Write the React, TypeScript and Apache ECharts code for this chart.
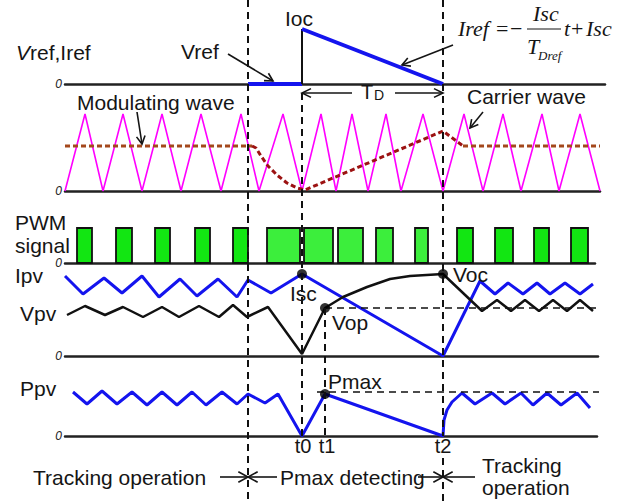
import React, { useEffect, useRef } from "react";
import * as echarts from "echarts";

// ---------- shared time axis (units from left edge of the traces) ----------
const tTrackEnd = 183; // end of tracking operation
const t0 = 237;
const t1 = 260;
const t2 = 378;

// ---------- panel 1: Vref, Iref ----------
const vrefSeg = [[183, 0], [237, 0]];
const iocStep = [[237, 0], [237, 55]];
const irefRamp = [[237, 55], [378, 0]];

// ---------- panel 2: carrier & modulating wave ----------
const carrierT = [0, 20, 38, 58, 77, 97, 116, 136, 156, 176, 194, 218, 237, 256, 271, 287, 303, 321, 336, 358, 378, 399, 418, 438, 456, 477, 494, 515, 535];
const carrierV = [0, 77, 0, 77, 0, 77, 0, 77, 0, 77, 0, 77, 0, 77, 0, 77, 0, 77, 0, 77, 0, 77, 0, 77, 0, 77, 0, 77, 0];
const modLeft = [[0, 45], [187, 45]];
const modMid = [[187, 45], [191, 43], [196, 35], [203, 25], [212, 16], [222, 8], [232, 3], [240, 1], [378, 60], [398, 45]];
const modRight = [[398, 45], [535, 45]];

// ---------- panel 3: PWM signal ----------
const pwmStart = [12, 51, 90, 130, 168, 202, 239, 273, 311, 350, 392, 430, 469, 506];
const pwmEnd = [27, 67, 105, 145, 183, 235, 268, 298, 328, 363, 408, 448, 484, 523];
const pwmHigh = 35;

// ---------- panel 4: Ipv, Vpv ----------
const ipvT = [0, 18, 39, 57, 77, 94, 115, 132, 153, 172, 183, 206, 237, 378, 415, 430, 443, 458, 472, 485, 500, 515, 528];
const ipvV = [80, 62, 78, 63, 80, 59, 77, 60, 77, 59, 76, 63, 82, 0, 75, 62, 73, 62, 73, 62, 73, 62, 72];
const vpvT = [2, 20, 40, 58, 78, 97, 114, 134, 154, 168, 182, 203, 237, 260, 278, 302, 325, 345, 378, 417, 432, 446, 460, 474, 488, 502, 515, 528];
const vpvV = [41, 50, 41, 49, 39, 49, 39, 50, 39, 51, 39, 49, 2, 48, 59, 69, 77, 80, 82, 45, 56, 45, 56, 45, 56, 45, 56, 45];
const iscPoint = [237, 82];
const vopPoint = [260, 48];
const vocPoint = [378, 82];
const vopLevel = [[260, 48], [540, 48]];

// ---------- panel 5: Ppv ----------
const ppvT = [8, 22, 37, 52, 67, 82, 97, 112, 127, 141, 157, 172, 183, 200, 213, 237, 260, 378, 379, 382, 387, 397, 410, 427, 440, 456, 468, 482, 496, 512, 525];
const ppvV = [44, 32, 45, 32, 44, 31, 44, 31, 44, 31, 44, 32, 42, 33, 42, 0, 42, 0, 16, 26, 34, 43, 32, 43, 32, 43, 31, 43, 31, 43, 28];
const pmaxPoint = [260, 42];
const pmaxLevel = [[252, 44], [538, 44]];

// ---------- layout ----------
const LEFT = 65;
const panels = [
  { top: 24, height: 60, width: 540, ymax: 60 },
  { top: 111, height: 80, width: 535, ymax: 80 },
  { top: 223, height: 40, width: 530, ymax: 40 },
  { top: 256, height: 100, width: 533, ymax: 100 },
  { top: 376, height: 60, width: 532, ymax: 60 },
];
const overlay = { top: 0, height: 502, width: 540, ymax: 502 };
const guides = [
  { t: tTrackEnd, from: 0, to: 502 },
  { t: t0, from: 93, to: 436 },
  { t: t1, from: 308, to: 436 },
  { t: t2, from: 0, to: 436 },
  { t: t2, from: 458, to: 502 },
];

const INK = "#151515";
const BLUE = "#1414ee";
const SANS = '"Liberation Sans", Arial, sans-serif';
const SERIF = '"Liberation Serif", "Times New Roman", serif';
const DASH = [7, 5];

function zip(ts: number[], vs: number[]) {
  return ts.map((t, i) => [t, vs[i]]);
}

function txt(text: string, x: number, y: number, o: any = {}) {
  return {
    type: "text",
    x,
    y,
    silent: true,
    z: 20,
    style: {
      text,
      fill: o.fill || INK,
      fontSize: o.size || 21,
      fontFamily: o.family || SANS,
      fontStyle: o.italic ? "italic" : "normal",
      align: o.align || "left",
      verticalAlign: "middle",
      textAlign: o.align || "left",
      textVerticalAlign: "middle",
    },
  };
}

function arrow(x1: number, y1: number, x2: number, y2: number, len = 9, spread = 0.5, lw = 1.6) {
  const a = Math.atan2(y2 - y1, x2 - x1);
  const h1 = [x2 - len * Math.cos(a - spread), y2 - len * Math.sin(a - spread)];
  const h2 = [x2 - len * Math.cos(a + spread), y2 - len * Math.sin(a + spread)];
  return [
    { type: "line", silent: true, z: 20, shape: { x1, y1, x2, y2 }, style: { stroke: INK, lineWidth: lw } },
    { type: "polyline", silent: true, z: 20, shape: { points: [h1, [x2, y2], h2] }, style: { stroke: INK, lineWidth: lw, fill: null } },
  ];
}

function line(data: number[][], idx: number, color: string, width: number, extra: any = {}) {
  return {
    type: "line",
    xAxisIndex: idx,
    yAxisIndex: idx,
    data,
    symbol: "none",
    silent: true,
    lineStyle: { color, width, type: extra.type || "solid", cap: "butt" },
    z: extra.z || 3,
  };
}

function dots(points: number[][], idx: number) {
  return {
    type: "scatter",
    xAxisIndex: idx,
    yAxisIndex: idx,
    data: points,
    symbolSize: 10,
    itemStyle: { color: "#000" },
    silent: true,
    z: 6,
  };
}

export default function App() {
  const ref = useRef<HTMLDivElement>(null);
  useEffect(() => {
    if (!ref.current) return;
    const chart = echarts.init(ref.current, undefined, { renderer: "svg" });
    const all = [...panels, overlay];
    const grid = all.map((p) => ({ left: LEFT, top: p.top, width: p.width, height: p.height, outerBoundsMode: "none", containLabel: false }));
    const xAxis = all.map((p, i) => ({
      type: "value",
      gridIndex: i,
      min: 0,
      max: p.width,
      axisLine: { show: i < panels.length, onZero: false, lineStyle: { color: "#222", width: 2.5 } },
      axisTick: { show: false },
      axisLabel: { show: false },
      splitLine: { show: false },
    }));
    const yAxis = all.map((p, i) => ({
      type: "value",
      gridIndex: i,
      min: 0,
      max: p.ymax,
      interval: p.ymax,
      inverse: i === panels.length,
      axisLine: { show: false },
      axisTick: { show: false },
      splitLine: { show: false },
      axisLabel: {
        show: i < panels.length,
        margin: 3,
        formatter: (v: number) => (v === 0 ? "0" : ""),
        fontStyle: "italic",
        fontSize: 12,
        fontFamily: SANS,
        color: "#222",
      },
    }));
    const ov = panels.length;
    const series: any[] = [
      // panel 1
      line(vrefSeg, 0, BLUE, 4),
      line(iocStep, 0, "#111", 2),
      line(irefRamp, 0, BLUE, 4),
      // panel 2
      line(zip(carrierT, carrierV), 1, "#ff00ff", 1.6),
      line(modLeft, 1, "#a4481c", 3, { type: [5, 3], z: 4 }),
      line(modMid, 1, "#9c1212", 3, { type: [5, 3], z: 4 }),
      line(modRight, 1, "#a4481c", 3, { type: [5, 3], z: 4 }),
      // panel 3
      {
        type: "custom",
        xAxisIndex: 2,
        yAxisIndex: 2,
        silent: true,
        z: 3,
        data: pwmStart.map((s, i) => [s, pwmEnd[i], pwmHigh]),
        encode: { x: [0, 1], y: 2 },
        renderItem: (_p: any, api: any) => {
          const a = api.coord([api.value(0), api.value(2)]);
          const b = api.coord([api.value(1), 0]);
          const s = api.value(0);
          const wide = s >= tTrackEnd && s < t2;
          return {
            type: "rect",
            shape: { x: a[0], y: a[1], width: b[0] - a[0], height: b[1] - a[1] },
            style: { fill: wide ? "#3cee3c" : "#12e612", stroke: "#111", lineWidth: 1.8 },
          };
        },
      },
      // panel 4
      line(zip(ipvT, ipvV), 3, BLUE, 3),
      line(zip(vpvT, vpvV), 3, "#111", 2.5),
      line(vopLevel, 3, "#111", 1.6, { type: DASH }),
      dots([iscPoint, vopPoint, vocPoint], 3),
      // panel 5
      line(zip(ppvT, ppvV), 4, BLUE, 3),
      line(pmaxLevel, 4, "#111", 1.6, { type: DASH }),
      dots([pmaxPoint], 4),
      // guide lines
      ...guides.map((g) => line([[g.t, g.from], [g.t, g.to]], ov, "#111", 2, { type: DASH, z: 8 })),
    ];

    const graphic: any[] = [
      // left labels
      txt("V", 16, 52, { italic: true }),
      txt("ref,Iref", 30, 52),
      txt("PWM", 15, 222),
      txt("signal", 15, 245),
      txt("Ipv", 15, 275),
      txt("Vpv", 20, 313),
      txt("Ppv", 20, 388),
      // panel annotations
      txt("Vref", 181, 51),
      ...arrow(228, 54, 273, 81),
      txt("Ioc", 285, 18),
      txt("Modulating wave", 77, 102),
      ...arrow(137, 112, 142, 144),
      txt("Carrier wave", 467, 96),
      ...arrow(483, 112, 470, 128),
      // TD arrow
      ...arrow(352, 93, 302, 93, 10, 0.45),
      ...arrow(395, 93, 443, 93, 10, 0.45),
      txt("T", 361, 92, { size: 20 }),
      txt("D", 374, 95, { size: 14 }),
      // formula
      txt("Iref", 458, 28, { family: SERIF, italic: true, size: 22 }),
      txt("=", 496, 28, { family: SERIF, size: 22 }),
      txt("\u2212", 510, 28, { family: SERIF, size: 22 }),
      txt("Isc", 533, 13, { family: SERIF, italic: true, size: 22 }),
      { type: "line", silent: true, z: 20, shape: { x1: 527, y1: 29, x2: 561, y2: 29 }, style: { stroke: INK, lineWidth: 1.2 } },
      txt("T", 527, 46, { family: SERIF, italic: true, size: 22 }),
      txt("Dref", 538, 55, { family: SERIF, italic: true, size: 13 }),
      txt("t", 564, 28, { family: SERIF, italic: true, size: 22 }),
      txt("+", 571, 28, { family: SERIF, size: 22 }),
      txt("Isc", 586, 28, { family: SERIF, italic: true, size: 22 }),
      ...arrow(453, 45, 402, 65),
      // trace labels
      txt("Isc", 290, 293),
      txt("Voc", 453, 274),
      txt("Vop", 332, 322),
      txt("Pmax", 328, 381),
      txt("t0", 303, 446, { align: "center", size: 20 }),
      txt("t1", 327, 446, { align: "center", size: 20 }),
      txt("t2", 443, 446, { align: "center", size: 20 }),
      // operation bands
      txt("Tracking operation", 33, 477),
      txt("Pmax detecting", 280, 477),
      txt("Tracking", 482, 465),
      txt("operation", 482, 487),
      ...arrow(220, 477, 248, 477, 11, 0.5),
      ...arrow(277, 477, 248, 477, 11, 0.5),
      ...arrow(418, 477, 443, 477, 11, 0.5),
      ...arrow(475, 477, 443, 477, 11, 0.5),
    ];

    chart.setOption({
      animation: false,
      backgroundColor: "#ffffff",
      grid,
      xAxis,
      yAxis,
      series,
      graphic,
    });
    return () => chart.dispose();
  }, []);
  return (
    <div
      ref={ref}
      style={{ position: "fixed", left: 0, top: 0, width: 623, height: 502, background: "#fff" }}
    />
  );
}
